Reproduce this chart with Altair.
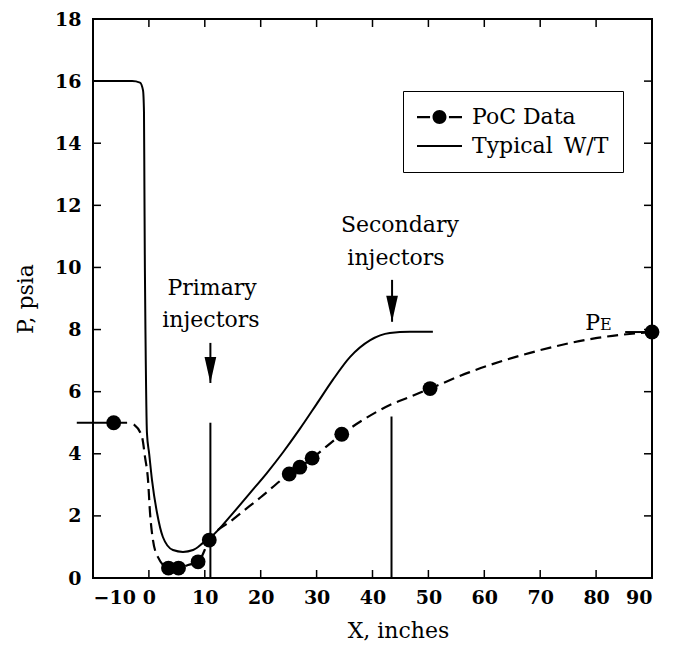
import altair as alt
import pandas as pd

# ---------------- data ----------------
x_labels = [-10, 0, 10, 20, 30, 40, 50, 60, 70, 80, 90]
y_labels = [0, 2, 4, 6, 8, 10, 12, 14, 16, 18]
x_ticks = [0, 10, 20, 30, 40, 50, 60, 70, 80]
y_ticks = [2, 4, 6, 8, 10, 12, 14, 16]

# Typical W/T (solid curve)
wt_x = [-10, -3.0, -1.6, -1.05, -0.88, -0.8, -0.72, -0.6, -0.35, 0.05, 0.55, 1.45,
        2.5, 4.3, 6.1, 7.9, 9.7, 11.0, 15.0, 18.0, 21.1, 24.0, 27.0, 30.0, 32.9,
        36.0, 39.6, 43.1, 46.7, 50.8]
wt_y = [16.0, 16.0, 15.95, 15.7, 15.0, 12.5, 10.0, 7.67, 4.67, 4.0, 3.16, 2.1,
        1.32, 0.9, 0.84, 0.9, 1.13, 1.3, 2.08, 2.72, 3.38, 4.05, 4.8, 5.6, 6.38,
        7.12, 7.66, 7.89, 7.93, 7.93]

# PoC Data (dashed curve through the data)
poc_line_x = [-2.7, -1.23, -0.7, -0.16, 0.2, 0.73, 1.6, 3.5, 5.2, 7.0, 8.8, 10.8,
              15.0, 20.0, 25.1, 27.0, 29.2, 34.5, 38.3, 43.1, 46.7, 50.3, 57.4,
              68.2, 80.2, 90.0]
poc_line_y = [4.95, 4.54, 3.9, 3.16, 2.1, 1.22, 0.68, 0.32, 0.32, 0.42, 0.52, 1.22,
              1.88, 2.6, 3.35, 3.57, 3.86, 4.63, 5.09, 5.57, 5.83, 6.1, 6.63,
              7.25, 7.73, 7.92]

# PoC Data points
poc_x = [-6.3, 3.5, 5.3, 8.8, 10.8, 25.1, 27.0, 29.2, 34.5, 50.3, 90.0]
poc_y = [5.0, 0.32, 0.32, 0.52, 1.22, 3.35, 3.57, 3.86, 4.63, 6.1, 7.92]

# short solid reference bars at inlet and exit pressure
ref_group = ["in", "in", "PE", "PE"]
ref_x = [-12.9, -3.9, 85.2, 90.0]
ref_y = [5.0, 5.0, 7.92, 7.92]

# injector stations
inj_x = [11.0, 43.4]
inj_top = [5.0, 5.2]
arrow_x = [11.0, 43.5]
arrow_top = [7.57, 9.6]
arrow_tip = [6.28, 8.25]

notes_text = ["Primary", "injectors", "Secondary", "injectors"]
notes_x = [11.3, 11.1, 44.9, 44.2]
notes_y = [9.34, 8.31, 11.37, 10.31]

pe_x = 80.7
pe_y = 7.99

series = ["PoC Data", "Typical\u2002W/T"]

# ---------------- styling ----------------
W = H = 559
FONT = "DejaVu Serif"
TICK = 8

xs = alt.Scale(domain=[-10, 90], nice=False, zero=False)
ys = alt.Scale(domain=[0, 18], nice=False, zero=False)

x_axis = alt.Axis(values=x_labels, format="d", title="X, inches", grid=False,
                  domain=False, ticks=False, labelFont=FONT, labelFontSize=19,
                  labelFontWeight="bold", labelColor="black", labelPadding=10,
                  titleFont=FONT, titleFontSize=22, titleFontWeight="normal",
                  titleColor="black", titleX=305, titleY=52, titleBaseline="middle")
y_axis = alt.Axis(values=y_labels, format="d", title="P, psia", grid=False,
                  domain=False, ticks=False, labelFont=FONT, labelFontSize=19,
                  labelFontWeight="bold", labelColor="black", labelPadding=12,
                  titleFont=FONT, titleFontSize=22, titleFontWeight="normal",
                  titleColor="black", titleX=-68, titleY=279.5,
                  titleBaseline="middle", titleAlign="center", titleAngle=-90)


def X(f):
    return alt.X(f, type="quantitative", scale=xs, axis=x_axis)


def Y(f):
    return alt.Y(f, type="quantitative", scale=ys, axis=y_axis)


wt = pd.DataFrame({"x": wt_x, "y": wt_y})
pl = pd.DataFrame({"x": poc_line_x, "y": poc_line_y})
pts = pd.DataFrame({"x": poc_x, "y": poc_y})
refs = pd.DataFrame({"g": ref_group, "x": ref_x, "y": ref_y})
inj = pd.DataFrame({"x": inj_x, "y0": [0.0, 0.0], "y1": inj_top})
arr = pd.DataFrame({"x": arrow_x, "top": arrow_top, "tip": arrow_tip})
notes = pd.DataFrame({"t": notes_text, "x": notes_x, "y": notes_y})
pe_p = pd.DataFrame({"t": ["P"], "x": [pe_x], "y": [pe_y]})
pe_e = pd.DataFrame({"t": ["E"], "x": [pe_x], "y": [pe_y]})
xt = pd.DataFrame({"x": x_ticks})
yt = pd.DataFrame({"y": y_ticks})
leg = pd.DataFrame({"series": series, "x": [None, None], "y": [None, None]})

# inward ticks on all four sides
t_bottom = alt.Chart(xt).mark_rule(color="black", strokeWidth=1.5).encode(
    x=X("x"), y=alt.value(H), y2=alt.value(H - TICK))
t_top = alt.Chart(xt).mark_rule(color="black", strokeWidth=1.5).encode(
    x=X("x"), y=alt.value(0), y2=alt.value(TICK))
t_left = alt.Chart(yt).mark_rule(color="black", strokeWidth=1.5).encode(
    y=Y("y"), x=alt.value(0), x2=alt.value(TICK))
t_right = alt.Chart(yt).mark_rule(color="black", strokeWidth=1.5).encode(
    y=Y("y"), x=alt.value(W), x2=alt.value(W - TICK))

wt_line = alt.Chart(wt).mark_line(color="black", strokeWidth=2,
                                  interpolate="monotone").encode(x=X("x"), y=Y("y"))
poc_line = alt.Chart(pl).mark_line(color="black", strokeWidth=2.2, strokeDash=[11, 6],
                                   interpolate="monotone").encode(x=X("x"), y=Y("y"))
ref_lines = alt.Chart(refs).mark_line(color="black", strokeWidth=2).encode(
    x=X("x"), y=Y("y"), detail="g:N")
points = alt.Chart(pts).mark_circle(color="black", size=220, opacity=1).encode(
    x=X("x"), y=Y("y"))

inj_rules = alt.Chart(inj).mark_rule(color="black", strokeWidth=2).encode(
    x=X("x"), y=Y("y0"), y2="y1")
shafts = alt.Chart(arr).mark_rule(color="black", strokeWidth=2).encode(
    x=X("x"), y=Y("top"), y2="tip")
heads = alt.Chart(arr).mark_point(shape="M-0.45,-2L0.45,-2L0,0Z", filled=True,
                                  size=676, color="black", opacity=1).encode(
    x=X("x"), y=Y("tip"))

note_text = alt.Chart(notes).mark_text(font=FONT, fontSize=22, color="black",
                                       align="center", baseline="middle").encode(
    x=X("x"), y=Y("y"), text="t:N")
pe_text_p = alt.Chart(pe_p).mark_text(font=FONT, fontSize=22, color="black",
                                      align="right", baseline="alphabetic").encode(
    x=X("x"), y=Y("y"), text="t:N")
pe_text_e = alt.Chart(pe_e).mark_text(font=FONT, fontSize=16, color="black",
                                      align="left", baseline="alphabetic").encode(
    x=X("x"), y=Y("y"), text="t:N")

path_poc = ("M-1,-0.05L-0.42,-0.05L-0.42,0.05L-1,0.05Z"
            "M0.42,-0.05L1,-0.05L1,0.05L0.42,0.05Z"
            "M-0.31,0A0.31,0.31,0,1,0,0.31,0A0.31,0.31,0,1,0,-0.31,0Z")
path_wt = "M-1,-0.045L1,-0.045L1,0.045L-1,0.045Z"

legend_layer = alt.Chart(leg).mark_point(filled=True, size=2025, color="black",
                                         opacity=1).encode(
    x=X("x"), y=Y("y"),
    shape=alt.Shape("series:N",
                    scale=alt.Scale(domain=series, range=[path_poc, path_wt]),
                    legend=alt.Legend(title=None, orient="none", legendX=310,
                                      legendY=72, padding=14, strokeColor="black",
                                      symbolSize=2025, clipHeight=24, rowPadding=5,
                                      symbolFillColor="black", symbolStrokeWidth=0,
                                      symbolOffset=0, labelFont=FONT,
                                      labelFontSize=22, labelColor="black",
                                      labelOffset=10, labelLimit=400)))

chart = alt.layer(
    t_bottom, t_top, t_left, t_right,
    wt_line, poc_line, ref_lines, points,
    inj_rules, shafts, heads,
    note_text, pe_text_p, pe_text_e,
    legend_layer,
).properties(
    width=W, height=H,
    padding={"left": 93, "top": 19, "right": 24, "bottom": 69},
    autosize=alt.AutoSizeParams(type="none"),
    background="white",
).configure_view(stroke="black", strokeWidth=2)

chart.save("out.html", embed_options={"renderer": "svg", "actions": False})
